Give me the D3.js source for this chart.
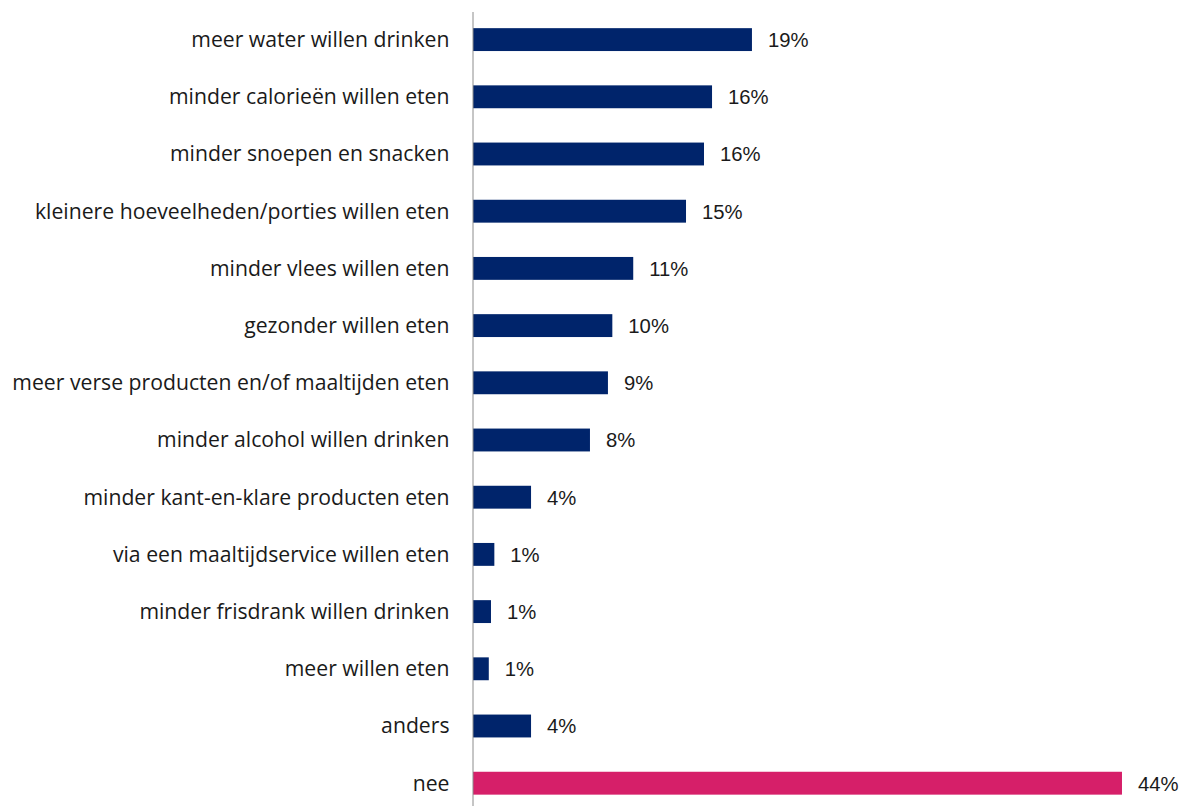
<!DOCTYPE html>
<html>
<head>
<meta charset="utf-8">
<script src="https://cdn.jsdelivr.net/npm/d3@7"></script>
<style>
  body { margin: 0; background: #fff; }
</style>
</head>
<body>
<div id="chart"></div>
<script>
// categories top to bottom
const categories = [
  "meer water willen drinken",
  "minder calorieën willen eten",
  "minder snoepen en snacken",
  "kleinere hoeveelheden/porties willen eten",
  "minder vlees willen eten",
  "gezonder willen eten",
  "meer verse producten en/of maaltijden eten",
  "minder alcohol willen drinken",
  "minder kant-en-klare producten eten",
  "via een maaltijdservice willen eten",
  "minder frisdrank willen drinken",
  "meer willen eten",
  "anders",
  "nee"
];
// values, labels as printed
const values = [19.08, 16.35, 15.8, 14.57, 10.96, 9.53, 9.23, 8.0, 3.97, 1.46, 1.23, 1.08, 3.97, 44.39];
const valueLabels = ["19%", "16%", "16%", "15%", "11%", "10%", "9%", "8%", "4%", "1%", "1%", "1%", "4%", "44%"];

const width = 1182;
const height = 806;
const axisX = 473;
const navy = "#00246b";
const pink = "#d61f69";

const svg = d3.select("#chart")
  .append("svg")
    .attr("width", width)
    .attr("height", height);

const x = d3.scaleLinear([0, 45], [axisX, axisX + 45 * 14.62]);
const y = d3.scaleBand(categories, [11, 11 + 14 * 57.2])
  .paddingInner(0.6)
  .paddingOuter(0.3);

// bars
svg.selectAll("rect.bar")
  .data(categories)
  .join("rect")
    .attr("class", "bar")
    .attr("x", x(0))
    .attr("y", d => y(d))
    .attr("width", (d, i) => x(values[i]) - x(0))
    .attr("height", y.bandwidth())
    .attr("fill", d => d === "nee" ? pink : navy);

// category labels
svg.selectAll("text.cat")
  .data(categories)
  .join("text")
    .attr("class", "cat")
    .attr("x", axisX - 23.5)
    .attr("y", d => y(d) + y.bandwidth() / 2)
    .attr("dy", "0.35em")
    .attr("text-anchor", "end")
    .style("font-family", "'Open Sans', sans-serif")
    .style("font-size", "21.2px")
    .attr("fill", "#1a1a1a")
    .text(d => d);

// value labels
svg.selectAll("text.val")
  .data(categories)
  .join("text")
    .attr("class", "val")
    .attr("x", (d, i) => x(values[i]) + 16)
    .attr("y", d => y(d) + y.bandwidth() / 2)
    .attr("dy", "0.36em")
    .style("font-family", "'Liberation Sans', Arial, sans-serif")
    .style("font-size", "20.3px")
    .attr("fill", "#1a1a1a")
    .text((d, i) => valueLabels[i]);

// vertical axis line
svg.append("line")
  .attr("x1", axisX)
  .attr("x2", axisX)
  .attr("y1", 12)
  .attr("y2", height)
  .attr("stroke", "#8c8c8c")
  .attr("stroke-width", 1);
</script>
</body>
</html>
